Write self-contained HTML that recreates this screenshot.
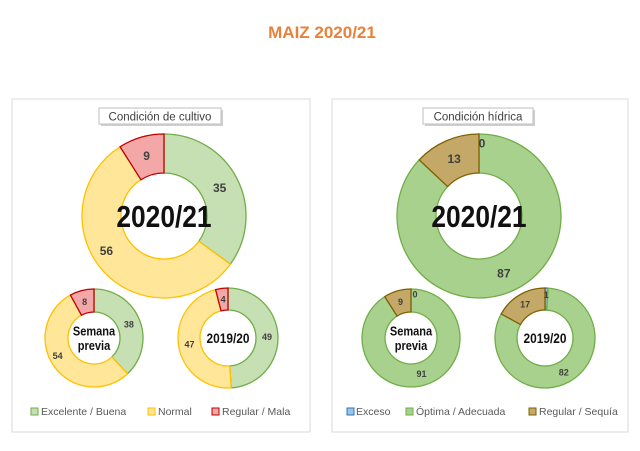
<!DOCTYPE html>
<html><head><meta charset="utf-8"><style>
body{margin:0;background:#fff;width:640px;height:446px;overflow:hidden;font-family:"Liberation Sans",sans-serif}
</style></head><body>
<svg id="s" width="640" height="446" xmlns="http://www.w3.org/2000/svg" font-family="Liberation Sans, sans-serif">
<text x="322" y="38" text-anchor="middle" font-size="17" font-weight="bold" fill="#e8823a">MAIZ 2020/21</text>
<rect x="12" y="99" width="298" height="333" fill="#fff" stroke="#d9d9d9"/>
<rect x="332" y="99" width="296" height="333" fill="#fff" stroke="#d9d9d9"/>
<rect x="101" y="110" width="122" height="16" fill="#d0d0d0"/>
<rect x="99" y="108" width="122" height="16" fill="#fff" stroke="#bfbfbf"/>
<text x="160" y="120.5" text-anchor="middle" font-size="11.5" fill="#404040">Condición  de cultivo</text>
<rect x="425" y="110" width="110" height="16" fill="#d0d0d0"/>
<rect x="423" y="108" width="110" height="16" fill="#fff" stroke="#bfbfbf"/>
<text x="478" y="120.5" text-anchor="middle" font-size="11.5" fill="#404040">Condición  hídrica</text>
<g id="d"></g>
<g font-size="10.5" fill="#595959">
<rect x="31" y="408" width="7" height="7" fill="#c6e0b4" stroke="#70ad47"/><text x="41" y="415">Excelente / Buena</text>
<rect x="148" y="408" width="7" height="7" fill="#ffe699" stroke="#ffc000"/><text x="158" y="415">Normal</text>
<rect x="212" y="408" width="7" height="7" fill="#f4a7a7" stroke="#c00000"/><text x="222" y="415">Regular / Mala</text>
<rect x="347" y="408" width="7" height="7" fill="#9dc3e6" stroke="#2e75b6"/><text x="356" y="415">Exceso</text>
<rect x="406" y="408" width="7" height="7" fill="#a9d18e" stroke="#70ad47"/><text x="416" y="415">Óptima / Adecuada</text>
<rect x="529" y="408" width="7" height="7" fill="#c4a868" stroke="#7f6000"/><text x="539" y="415">Regular / Sequía</text>
</g>
</svg>
<script>
const g=document.getElementById('d');
const L=[["#c6e0b4","#70ad47"],["#ffe699","#ffc000"],["#f4a7a7","#c00000"]];
const R=[["#9dc3e6","#2e75b6"],["#a9d18e","#70ad47"],["#c4a868","#7f6000"]];
function pt(cx,cy,r,a){return [cx+r*Math.sin(a),cy-r*Math.cos(a)];}
function donut(cx,cy,ro,ri,vals,cols,labs,fs,title,tfs){
 let tot=vals.reduce((a,b)=>a+b,0),a0=0,h='';
 vals.forEach((v,i)=>{if(v>0){let a1=a0+v/tot*2*Math.PI;let big=(a1-a0)>Math.PI?1:0;
  let p1=pt(cx,cy,ro,a0),p2=pt(cx,cy,ro,a1),p3=pt(cx,cy,ri,a1),p4=pt(cx,cy,ri,a0);
  h+=`<path d="M${p1} A${ro},${ro} 0 ${big} 1 ${p2} L${p3} A${ri},${ri} 0 ${big} 0 ${p4}Z" fill="${cols[i][0]}" stroke="${cols[i][1]}" stroke-width="1.3"/>`;
  a0=a1;}});
 a0=0;
 vals.forEach((v,i)=>{let a1=a0+v/tot*2*Math.PI;let lb=labs[i];let m=(a0+a1)/2;let p=pt(cx,cy,(ro+ri)/2,m);let t=lb;
  if(Array.isArray(lb)){p=[p[0]+lb[1],p[1]+lb[2]];t=lb[0];}
  h+=`<text x="${p[0]}" y="${p[1]+fs*0.35}" text-anchor="middle" font-size="${fs}" font-weight="bold" fill="#404040">${t}</text>`;a0=a1;});
 let lines=title.split('|');
 lines.forEach((t,k)=>{h+=`<text x="${cx}" y="${cy+tfs*0.36+(k-(lines.length-1)/2)*tfs*1.1}" text-anchor="middle" font-size="${tfs}" font-weight="bold" fill="#111" transform="translate(${cx} 0) scale(0.85 1) translate(${-cx} 0)">${t}</text>`;});
 g.innerHTML+=h;}
donut(164,216,82,43,[35,56,9],L,["35",["56",-12,-8],"9"],12,"2020/21",31);
donut(94,338,49,26,[38,54,8],L,["38",["54",-6,-4],"8"],9,"Semana|previa",13);
donut(228,338,50,28,[49,47,4],L,["49","47","4"],9,"2019/20",14);
donut(479,216,82,43,[0,87,13],R,[["0",3,-10],"87","13"],12,"2020/21",31);
donut(411,338,49,26,[0,91,9],R,[["0",4,-6],"91","9"],9,"Semana|previa",13);
donut(545,338,50,28,[1,82,17],R,[["1",0,-4],"82","17"],9,"2019/20",14);
</script>
</body></html>
